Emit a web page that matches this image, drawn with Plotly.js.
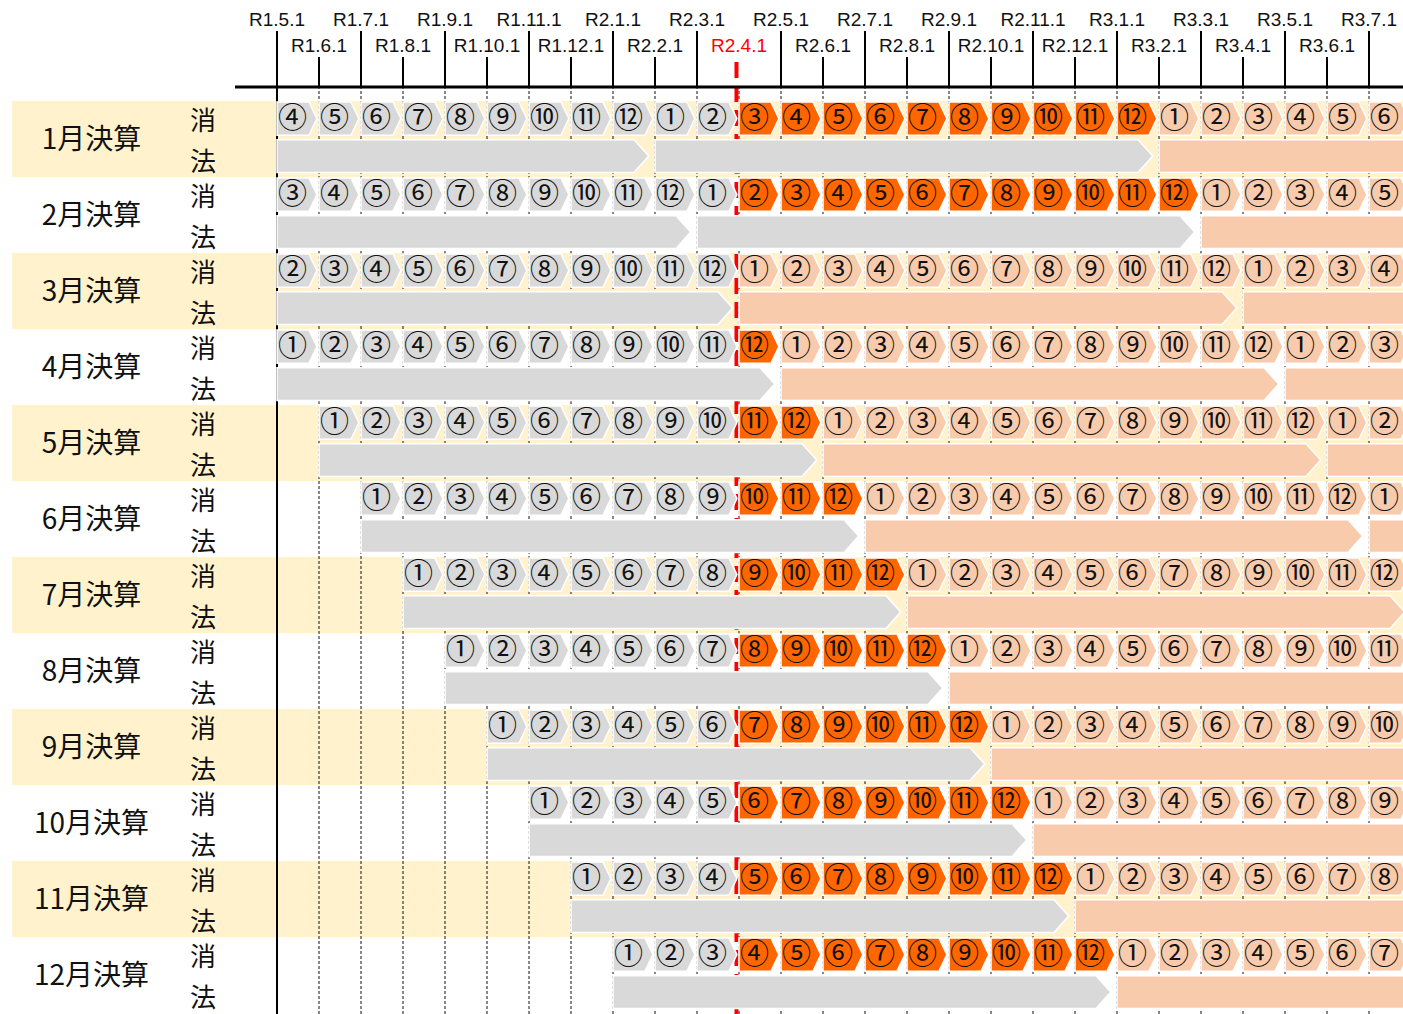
<!DOCTYPE html>
<html>
<head>
<meta charset="utf-8">
<script src="https://cdn.plot.ly/plotly-3.0.1.min.js"></script>
<style>html,body{margin:0;padding:0;background:#fff;}#chart{width:1403px;height:1014px;}</style>
</head>
<body>
<div id="chart"></div>
<script>
// ---------------- DATA ----------------
const months = ['R1.5.1','R1.6.1','R1.7.1','R1.8.1','R1.9.1','R1.10.1','R1.11.1','R1.12.1',
  'R2.1.1','R2.2.1','R2.3.1','R2.4.1','R2.5.1','R2.6.1','R2.7.1','R2.8.1','R2.9.1','R2.10.1',
  'R2.11.1','R2.12.1','R3.1.1','R3.2.1','R3.3.1','R3.4.1','R3.5.1','R3.6.1','R3.7.1'];
const highlightMonth = 'R2.4.1';
const companies = ['1月決算','2月決算','3月決算','4月決算','5月決算','6月決算',
  '7月決算','8月決算','9月決算','10月決算','11月決算','12月決算'];
const taxLabels = ['消','法'];

// 消費税: circled month number per calendar month column (' ' = none)
const shohiNums = [
  '④⑤⑥⑦⑧⑨⑩⑪⑫①②③④⑤⑥⑦⑧⑨⑩⑪⑫①②③④⑤⑥',
  '③④⑤⑥⑦⑧⑨⑩⑪⑫①②③④⑤⑥⑦⑧⑨⑩⑪⑫①②③④⑤',
  '②③④⑤⑥⑦⑧⑨⑩⑪⑫①②③④⑤⑥⑦⑧⑨⑩⑪⑫①②③④',
  '①②③④⑤⑥⑦⑧⑨⑩⑪⑫①②③④⑤⑥⑦⑧⑨⑩⑪⑫①②③',
  ' ①②③④⑤⑥⑦⑧⑨⑩⑪⑫①②③④⑤⑥⑦⑧⑨⑩⑪⑫①②',
  '  ①②③④⑤⑥⑦⑧⑨⑩⑪⑫①②③④⑤⑥⑦⑧⑨⑩⑪⑫①',
  '   ①②③④⑤⑥⑦⑧⑨⑩⑪⑫①②③④⑤⑥⑦⑧⑨⑩⑪⑫',
  '    ①②③④⑤⑥⑦⑧⑨⑩⑪⑫①②③④⑤⑥⑦⑧⑨⑩⑪',
  '     ①②③④⑤⑥⑦⑧⑨⑩⑪⑫①②③④⑤⑥⑦⑧⑨⑩',
  '      ①②③④⑤⑥⑦⑧⑨⑩⑪⑫①②③④⑤⑥⑦⑧⑨',
  '       ①②③④⑤⑥⑦⑧⑨⑩⑪⑫①②③④⑤⑥⑦⑧',
  '        ①②③④⑤⑥⑦⑧⑨⑩⑪⑫①②③④⑤⑥⑦'
];
// colour class per column: G = before R2.4, O = from R2.4 in current year, S = following years, - = none
const shohiClass = [
  'GGGGGGGGGGGOOOOOOOOOOSSSSSS',
  'GGGGGGGGGGGOOOOOOOOOOOSSSSS',
  'GGGGGGGGGGGSSSSSSSSSSSSSSSS',
  'GGGGGGGGGGGOSSSSSSSSSSSSSSS',
  '-GGGGGGGGGGOOSSSSSSSSSSSSSS',
  '--GGGGGGGGGOOOSSSSSSSSSSSSS',
  '---GGGGGGGGOOOOSSSSSSSSSSSS',
  '----GGGGGGGOOOOOSSSSSSSSSSS',
  '-----GGGGGGOOOOOOSSSSSSSSSS',
  '------GGGGGOOOOOOOSSSSSSSSS',
  '-------GGGGOOOOOOOOSSSSSSSS',
  '--------GGGOOOOOOOOOSSSSSSS'
];
// 法人税: fiscal-year periods [from month index, to month index, class]
const hojinPeriods = [
  [[0,9,'G'],[9,21,'G'],[21,33,'S']],
  [[0,10,'G'],[10,22,'G'],[22,34,'S']],
  [[0,11,'G'],[11,23,'S'],[23,35,'S']],
  [[0,12,'G'],[12,24,'S'],[24,36,'S']],
  [[1,13,'G'],[13,25,'S'],[25,37,'S']],
  [[2,14,'G'],[14,26,'S'],[26,38,'S']],
  [[3,15,'G'],[15,27,'S']],
  [[4,16,'G'],[16,28,'S']],
  [[5,17,'G'],[17,29,'S']],
  [[6,18,'G'],[18,30,'S']],
  [[7,19,'G'],[19,31,'S']],
  [[8,20,'G'],[20,32,'S']]
];

// ---------------- STYLE ----------------
const fills = {G:'#D9D9D9', O:'#FF6600', S:'#F8CBAD'};
const bandColor = '#FFF2CC';
const W = 1403, H = 1014;
const mL = 12, mT = 87;
const colPx = 42, originPx = 277;   // pixel of first month boundary
const rowPx = 76, firstRowPx = 101;
const xmin = (mL - originPx)/colPx, xmax = (W - originPx)/colPx;
const ymin = -(firstRowPx - mT)/rowPx, ymax = ymin + (H - mT)/rowPx;
const jpFont = '"Noto Sans CJK JP", "Noto Sans CJK SC", sans-serif';

const shapes = [];
// alternating row bands
companies.forEach((c,r)=>{
  if (r % 2 === 0) shapes.push({type:'rect', layer:'below', xref:'paper', yref:'y',
    x0:0, x1:1, y0:r, y1:r+1, fillcolor:bandColor, line:{width:0}});
});
// month grid
months.forEach((m,k)=>{
  if (k === 0) return;
  shapes.push({type:'line', layer:'below', xref:'x', yref:'paper', x0:k, x1:k, y0:0, y1:1,
    line:{color:'#111', width:1, dash:'3px,2px'}});
});
shapes.push({type:'line', layer:'below', xref:'x', yref:'paper', x0:0, x1:0, y0:0, y1:1,
  line:{color:'#000', width:2}});

// consumption tax chevrons + labels
const numX = [], numY = [], numT = [];
shohiNums.forEach((row,r)=>{
  const chars = Array.from(row);
  const cls = shohiClass[r];
  chars.forEach((ch,k)=>{
    const c = cls[k];
    if (!c || c === '-') return;
    const x0 = k, x1 = k + 0.76, x2 = k + 0.95;
    const y0 = r + 0.012, y1 = r + 0.45, ym = (y0 + y1)/2;
    shapes.push({type:'path', layer:'below', xref:'x', yref:'y',
      path:`M${x0},${y0} L${x1},${y0} L${x2},${ym} L${x1},${y1} L${x0},${y1} Z`,
      fillcolor:fills[c], line:{color:'#fff', width:1.5}});
    numX.push(k + 0.37); numY.push(r + 0.265); numT.push(ch);
  });
});
// corporate tax bars
hojinPeriods.forEach((segs,r)=>{
  segs.forEach(([a,b,c])=>{
    const x0 = a, x1 = b - 0.5, x2 = b - 0.15;
    const y0 = r + 0.51, y1 = r + 0.94, ym = (y0 + y1)/2;
    shapes.push({type:'path', layer:'below', xref:'x', yref:'y',
      path:`M${x0},${y0} L${x1},${y0} L${x2},${ym} L${x1},${y1} L${x0},${y1} Z`,
      fillcolor:fills[c], line:{color:'#fff', width:1.5}});
  });
});
// cut-off line
const hk = months.indexOf(highlightMonth);
shapes.push({type:'line', layer:'below', xref:'x', yref:'paper', x0:hk-0.06, x1:hk-0.06,
  y0:0, y1:(H-58)/(H-mT), line:{color:'#FF0000', width:4, dash:'16px,8px'}});
// header base line
shapes.push({type:'line', layer:'below', xref:'x', yref:'paper', x0:-1, x1:xmax+1, y0:1, y1:1,
  line:{color:'#000', width:3}});

const evenK = [], evenT = [], oddK = [], oddT = [];
months.forEach((m,k)=>{
  if (k % 2 === 0) { evenK.push(k); evenT.push(m); }
  else if (k !== hk) { oddK.push(k); oddT.push(m); }
});

const traces = [
  {type:'scatter', mode:'text', x:numX, y:numY, text:numT, hoverinfo:'skip', showlegend:false,
   textfont:{family:jpFont, size:29, color:'#111'}, cliponaxis:true},
  {type:'scatter', mode:'text', x:companies.map(()=> (91.5-originPx)/colPx),
   y:companies.map((c,r)=> r + 0.535), text:companies, hoverinfo:'skip', showlegend:false,
   textfont:{family:jpFont, size:28, color:'#111'}, cliponaxis:false},
  {type:'scatter', mode:'text',
   x:companies.flatMap(()=> [(203-originPx)/colPx, (203-originPx)/colPx]),
   y:companies.flatMap((c,r)=> [r + 0.29, r + 0.83]),
   text:companies.flatMap(()=> taxLabels), hoverinfo:'skip', showlegend:false,
   textfont:{family:jpFont, size:26, color:'#111'}, cliponaxis:false},
  {type:'scatter', x:[null], y:[null], xaxis:'x2', hoverinfo:'skip', showlegend:false},
  {type:'scatter', x:[null], y:[null], xaxis:'x3', hoverinfo:'skip', showlegend:false}
];

const tickFont = {family:'"Liberation Sans", Arial, sans-serif', size:19, color:'#111'};
const baseAx = {range:[xmin,xmax], side:'top', tickmode:'array', ticks:'outside', tickwidth:2,
  tickcolor:'#000', showgrid:false, zeroline:false, showline:false, fixedrange:true,
  tickfont:tickFont, ticklabelstandoff:-3};

const layout = {
  width:W, height:H, margin:{l:mL, r:0, t:mT, b:0, pad:0},
  paper_bgcolor:'#fff', plot_bgcolor:'#fff', showlegend:false,
  xaxis:Object.assign({}, baseAx, {tickvals:evenK, ticktext:evenT, ticklen:55, anchor:'y'}),
  xaxis2:Object.assign({}, baseAx, {tickvals:oddK, ticktext:oddT, ticklen:29, overlaying:'x', anchor:'y'}),
  xaxis3:Object.assign({}, baseAx, {tickvals:[hk], ticktext:[highlightMonth], ticklen:29,
    tickcolor:'rgba(0,0,0,0)', overlaying:'x', anchor:'y',
    tickfont:Object.assign({}, tickFont, {color:'#FF0000'})}),
  yaxis:{range:[ymax,ymin], visible:false, fixedrange:true},
  shapes:shapes
};

Plotly.newPlot('chart', traces, layout, {staticPlot:true, displayModeBar:false});
</script>
</body>
</html>
